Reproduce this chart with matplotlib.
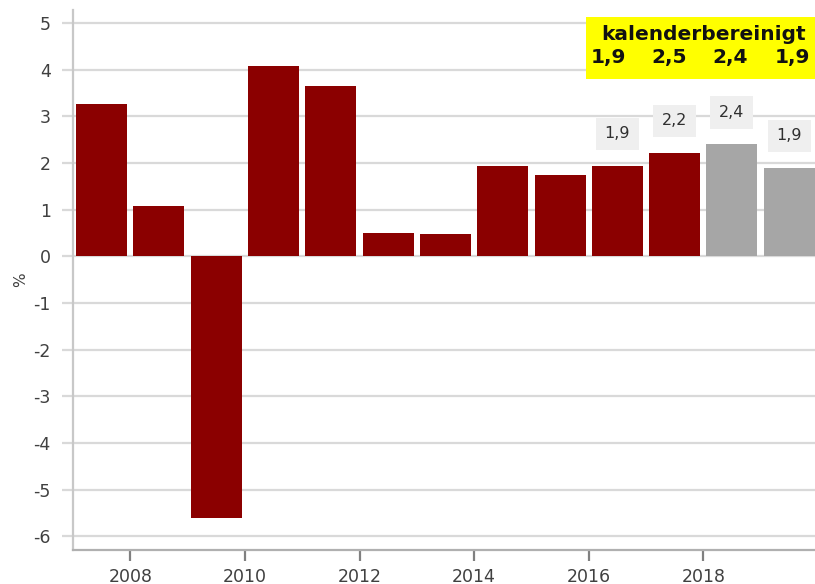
import matplotlib
matplotlib.use("Agg")
import matplotlib.pyplot as plt
from matplotlib.patches import Rectangle

years = list(range(2007, 2020))
values = [3.26, 1.08, -5.61, 4.08, 3.65, 0.51, 0.48, 1.94, 1.75, 1.94, 2.22, 2.40, 1.90]
forecast = [False]*11 + [True, True]
label_years = [2016, 2017, 2018, 2019]
label_texts = ["1,9", "2,2", "2,4", "1,9"]
kal_title = "kalenderbereinigt"
kal_values = ["1,9", "2,5", "2,4", "1,9"]
xticks = [2008, 2010, 2012, 2014, 2016, 2018]
yticks = list(range(-6, 6))

W, H = 815, 584
fig = plt.figure(figsize=(W/100, H/100), dpi=100)
ax = fig.add_axes([73/W, (H-549.5)/H, (W-73)/W, (549.5-10)/H])

colors = ["#a6a6a6" if f else "#8b0000" for f in forecast]
ax.bar([y + 0.5 for y in years], values, width=0.89, color=colors, zorder=3)

ax.set_xlim(2007, 2007 + (W-73)/57.3)
ax.set_ylim(-6.28, 5.28)
ax.set_yticks(yticks)
ax.set_yticklabels([str(t) for t in yticks])
ax.set_xticks(xticks)
ax.set_xticklabels([str(t) for t in xticks])
ax.grid(axis="y", color="#d9d9d9", linewidth=1.6, zorder=0)
ax.tick_params(axis="y", length=8, width=1.6, color="#d9d9d9", pad=8,
               labelsize=12.5, labelcolor="#404040")
ax.tick_params(axis="x", length=8, width=1.6, color="#808080", pad=5,
               labelsize=12.5, labelcolor="#404040")
for s in ["top", "right"]:
    ax.spines[s].set_visible(False)
ax.spines["left"].set_color("#c8c8c8")
ax.spines["left"].set_linewidth(1.6)
ax.spines["bottom"].set_color("#b0b0b0")
ax.spines["bottom"].set_linewidth(1.6)
ax.set_ylabel("%", fontsize=11, color="#404040", labelpad=4)

vals = dict(zip(years, values))
for yr, txt in zip(label_years, label_texts):
    ax.annotate(txt, (yr + 0.5, vals[yr]), xytext=(0, 23), textcoords="offset points",
                ha="center", va="center", fontsize=11.5, color="#303030", zorder=5,
                bbox=dict(boxstyle="square,pad=0.55", facecolor="#efefef", edgecolor="none"))

# yellow box
fig.patches.append(Rectangle((586/W, 1 - 79/H), (W-586)/W, (79-16.7)/H,
                             transform=fig.transFigure, facecolor="#ffff00",
                             edgecolor="none", zorder=10))
fig.text(704/W, 1 - 34/H, kal_title, ha="center", va="center", fontsize=14.5,
         fontweight="bold", color="#111111", zorder=11)
for xp, v in zip([608, 669, 730, 792], kal_values):
    fig.text(xp/W, 1 - 58/H, v, ha="center", va="center", fontsize=14.5,
             fontweight="bold", color="#111111", zorder=11)

fig.savefig("out.png", dpi=100)
